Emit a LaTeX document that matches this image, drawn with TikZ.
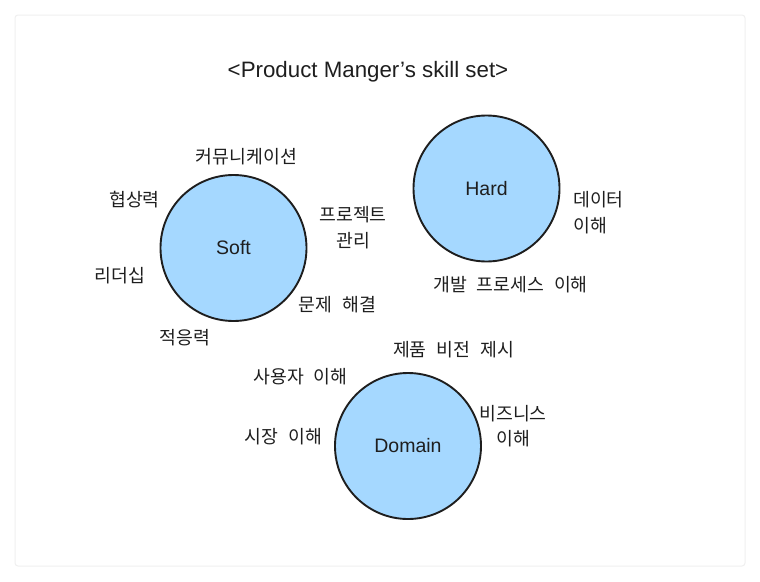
\documentclass[tikz,border=0pt]{standalone}
\usepackage{fontspec}
\setmainfont{Liberation Sans}
\newfontfamily\krfont[WordSpace=2.4]{Noto Sans CJK KR}
\definecolor{ink}{HTML}{1E1E1E}
\definecolor{fillblue}{HTML}{A5D8FF}
\definecolor{frame}{HTML}{EFEFEF}
\tikzset{
  skill/.style={circle, draw=ink, line width=1.9pt, fill=fillblue, minimum size=146pt, inner sep=0pt,
    font=\fontsize{19.5}{22}\selectfont, text=ink},
  kr/.style={font=\krfont\fontsize{18.3}{25.5}\selectfont, text=ink, inner sep=0pt, yshift=-1.5pt},
  ttl/.style={font=\fontsize{22.3}{26}\selectfont, text=ink, inner sep=0pt}
}
\begin{document}
\begin{tikzpicture}[x=1pt,y=-1pt]
\useasboundingbox (0,0) rectangle (760,581);
\draw[frame, line width=1pt, rounded corners=3pt] (15,15) rectangle (745,566);
\node[ttl] (title) at (368,72) {<Product Manger's skill set>};
% circles
\node[skill] (soft) at (233.5,248) {Soft};
\node[skill] (hard) at (486.5,188.5) {Hard};
\node[skill] (domain) at (408,446) {Domain};
% soft labels
\node[kr] (comm) at (246.5,155) {커뮤니케이션};
\node[kr] (nego) at (134.5,198) {협상력};
\node[kr, align=center] (proj) at (353,226) {프로젝트\\관리};
\node[kr] (lead) at (120,274) {리더십};
\node[kr] (prob) at (337.5,303) {문제 해결};
\node[kr] (adapt) at (185,336) {적응력};
% hard labels
\node[kr, align=left, anchor=west] (data) at (573,211) {데이터\\이해};
\node[kr] (dev) at (510.5,283) {개발 프로세스 이해};
% domain labels
\node[kr] (vision) at (453.5,348) {제품 비전 제시};
\node[kr] (user) at (300.5,375) {사용자 이해};
\node[kr, align=center] (biz) at (513,424.5) {비즈니스\\이해};
\node[kr] (market) at (283.5,435) {시장 이해};
\end{tikzpicture}
\end{document}
